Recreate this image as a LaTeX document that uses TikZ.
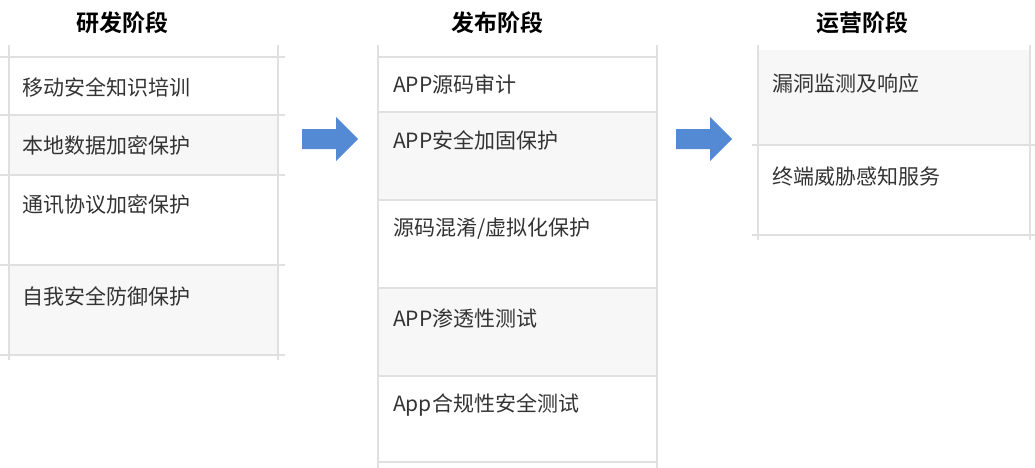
\documentclass[tikz,border=0pt]{standalone}
\usepackage{fontspec}
\newfontfamily\cjk{Noto Sans CJK SC}
\newfontfamily\cjkb{Noto Sans CJK SC Bold}
\begin{document}
\begin{tikzpicture}[x=1pt,y=-1pt,
  grid/.style={draw=black!12,line width=1.2pt},
  cell/.style={anchor=west,font=\cjk\fontsize{21}{24}\selectfont,text=black!80,inner sep=0pt},
  head/.style={font=\cjkb\fontsize{23}{26}\selectfont,text=black}]
\useasboundingbox (0,0) rectangle (1035,468);
\definecolor{arr}{RGB}{84,137,211}
% left table
\fill[black!3] (9,115) rectangle (278,175);
\fill[black!3] (9,265) rectangle (278,355);
\foreach \y in {57,115,175,265,355} \draw[grid] (0,\y) -- (285,\y);
\draw[grid] (9,45) -- (9,360);
\draw[grid] (278,45) -- (278,360);
\node[head] (h1) at (122,23) {研发阶段};
\node[cell] (a1) at (22,87) {移动安全知识培训};
\node[cell] (a2) at (22,145) {本地数据加密保护};
\node[cell] (a3) at (22,205) {通讯协议加密保护};
\node[cell] (a4) at (22,296) {自我安全防御保护};
% middle table
\fill[black!3] (378,112) rectangle (657,200);
\fill[black!3] (378,288) rectangle (657,376);
\foreach \y in {57,112,200,288,376,462} \draw[grid] (378,\y) -- (657,\y);
\draw[grid] (378,45) -- (378,468);
\draw[grid] (657,45) -- (657,468);
\node[head] (h2) at (497,23) {发布阶段};
\node[cell] (b1) at (393,84) {APP源码审计};
\node[cell] (b2) at (393,140) {APP安全加固保护};
\node[cell] (b3) at (393,229) {源码混淆/虚拟化保护};
\node[cell] (b4) at (393,318) {APP渗透性测试};
\node[cell] (b5) at (393,405) {App合规性安全测试};
% right table
\fill[black!3] (758,50) rectangle (1030,145);
\foreach \y in {145,235} \draw[grid] (752,\y) -- (1035,\y);
\draw[grid] (758,45) -- (758,240);
\draw[grid] (1030,45) -- (1030,240);
\node[head] (h3) at (862,23) {运营阶段};
\node[cell] (c1) at (772,84) {漏洞监测及响应};
\node[cell] (c2) at (772,177) {终端威胁感知服务};
% arrows
\fill[arr] (302,129) -- (336,129) -- (336,117) -- (358,139) -- (336,161) -- (336,149) -- (302,149) -- cycle;
\fill[arr] (676,129) -- (710,129) -- (710,117) -- (732,139) -- (710,161) -- (710,149) -- (676,149) -- cycle;
\end{tikzpicture}
\end{document}
